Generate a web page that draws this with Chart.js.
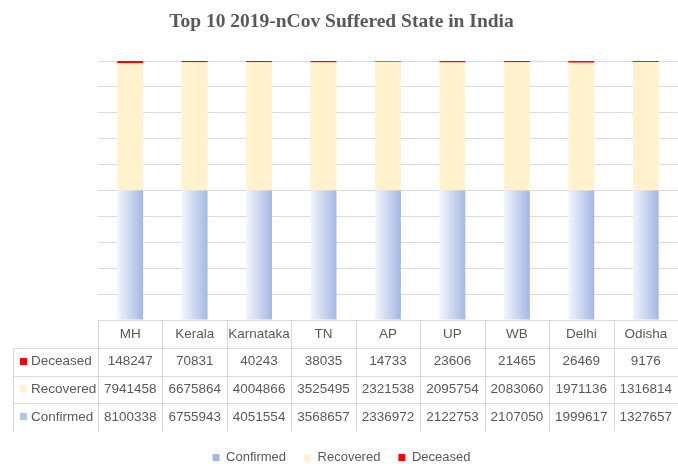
<!DOCTYPE html>
<html>
<head>
<meta charset="utf-8">
<script src="https://cdn.jsdelivr.net/npm/chart.js@4"></script>
<style>
  html, body { margin: 0; padding: 0; background: #fff; }
</style>
</head>
<body>
<canvas id="covidChart" width="678" height="464"></canvas>
<script>
const states = ['MH', 'Kerala', 'Karnataka', 'TN', 'AP', 'UP', 'WB', 'Delhi', 'Odisha'];
const confirmed = [8100338, 6755943, 4051554, 3568657, 2336972, 2122753, 2107050, 1999617, 1327657];
const recovered = [7941458, 6675864, 4004866, 3525495, 2321538, 2095754, 2083060, 1971136, 1316814];
const deceased = [148247, 70831, 40243, 38035, 14733, 23606, 21465, 26469, 9176];

const textColor = '#595959';
const lineColor = '#d9d9d9';
const tableFont = '13.5px "Liberation Sans", Arial, sans-serif';

// 100% stacked, like the original sheet
const totals = states.map((s, i) => confirmed[i] + recovered[i] + deceased[i]);
const pct = arr => arr.map((v, i) => v / totals[i] * 100);

function confirmedFill(c) {
  const chart = c.chart;
  if (c.type !== 'data' || !chart.chartArea) return '#b4c6e7';
  const cx = chart.scales.x.getPixelForValue(c.dataIndex);
  const half = chart.scales.x.width / states.length * 0.2;
  const g = chart.ctx.createLinearGradient(cx - half, 0, cx + half, 0);
  g.addColorStop(0, '#f2f5fb');
  g.addColorStop(0.5, '#cbd7ef');
  g.addColorStop(1, '#a3b8e1');
  return g;
}

// rows of the data table under the bars (top to bottom)
const tableRows = [
  { label: 'Deceased', values: deceased, color: '#ff0000' },
  { label: 'Recovered', values: recovered, color: '#fff2cc' },
  { label: 'Confirmed', values: confirmed, color: '#b4c6e7' }
];

const dataTable = {
  id: 'dataTable',
  afterDraw(chart) {
    const { ctx, chartArea } = chart;
    const x = chart.scales.x;
    const colW = x.width / states.length;
    const top = chartArea.bottom;
    const rowH = 27.75;
    const left = chartArea.left;
    const right = chartArea.right;
    const labelLeft = 13;
    const px = v => Math.round(v) + 0.5;

    ctx.save();
    ctx.strokeStyle = lineColor;
    ctx.lineWidth = 1;
    ctx.beginPath();
    ctx.moveTo(left, px(top));
    ctx.lineTo(right, px(top));
    for (let r = 1; r <= tableRows.length; r++) {
      ctx.moveTo(labelLeft, px(top + r * rowH));
      ctx.lineTo(right, px(top + r * rowH));
    }
    for (let c = 0; c <= states.length; c++) {
      ctx.moveTo(px(left + c * colW), top);
      ctx.lineTo(px(left + c * colW), top + tableRows.length * rowH + rowH);
    }
    ctx.moveTo(px(labelLeft), top + rowH);
    ctx.lineTo(px(labelLeft), top + (tableRows.length + 1) * rowH);
    ctx.stroke();

    ctx.font = tableFont;
    ctx.fillStyle = textColor;
    ctx.textBaseline = 'middle';
    ctx.textAlign = 'center';
    states.forEach((s, i) => {
      ctx.fillText(s, x.getPixelForValue(i), top + rowH / 2);
    });

    tableRows.forEach((row, r) => {
      const cy = top + (r + 1.5) * rowH;
      ctx.fillStyle = row.color;
      ctx.fillRect(20, Math.round(cy - 4), 7, 7);
      ctx.fillStyle = textColor;
      ctx.textAlign = 'left';
      ctx.fillText(row.label, 31, cy);
      ctx.textAlign = 'center';
      row.values.forEach((v, i) => {
        ctx.fillText(String(v), x.getPixelForValue(i), cy);
      });
    });
    ctx.restore();
  }
};

new Chart(document.getElementById('covidChart'), {
  type: 'bar',
  data: {
    labels: states,
    datasets: [
      { label: 'Confirmed', data: pct(confirmed), backgroundColor: confirmedFill },
      { label: 'Recovered', data: pct(recovered), backgroundColor: '#fff2cc' },
      { label: 'Deceased', data: pct(deceased), backgroundColor: '#ff0000' }
    ]
  },
  options: {
    responsive: false,
    animation: false,
    devicePixelRatio: 1,
    layout: { padding: { left: 0, right: -5, top: 0, bottom: -10 } },
    datasets: {
      bar: { barPercentage: 0.4, categoryPercentage: 1 }
    },
    plugins: {
      title: {
        display: true,
        text: 'Top 10 2019-nCov Suffered State in India',
        color: textColor,
        font: { family: '"Liberation Serif", "Times New Roman", serif', size: 19.5, weight: 'bold' },
        padding: { top: 10, bottom: 27.6 }
      },
      legend: {
        position: 'bottom',
        labels: {
          color: textColor,
          font: { family: '"Liberation Sans", Arial, sans-serif', size: 13 },
          boxWidth: 7,
          boxHeight: 7,
          padding: 18
        }
      },
      tooltip: { enabled: false }
    },
    scales: {
      x: {
        stacked: true,
        grid: { display: false },
        border: { display: false },
        ticks: { display: false },
        afterFit: scale => { scale.height = 113; }
      },
      y: {
        stacked: true,
        min: 0,
        max: 100,
        ticks: { display: false, stepSize: 10 },
        grid: { color: lineColor, drawTicks: false },
        border: { display: false },
        afterFit: scale => { scale.width = 98; }
      }
    }
  },
  plugins: [dataTable]
});
</script>
</body>
</html>
